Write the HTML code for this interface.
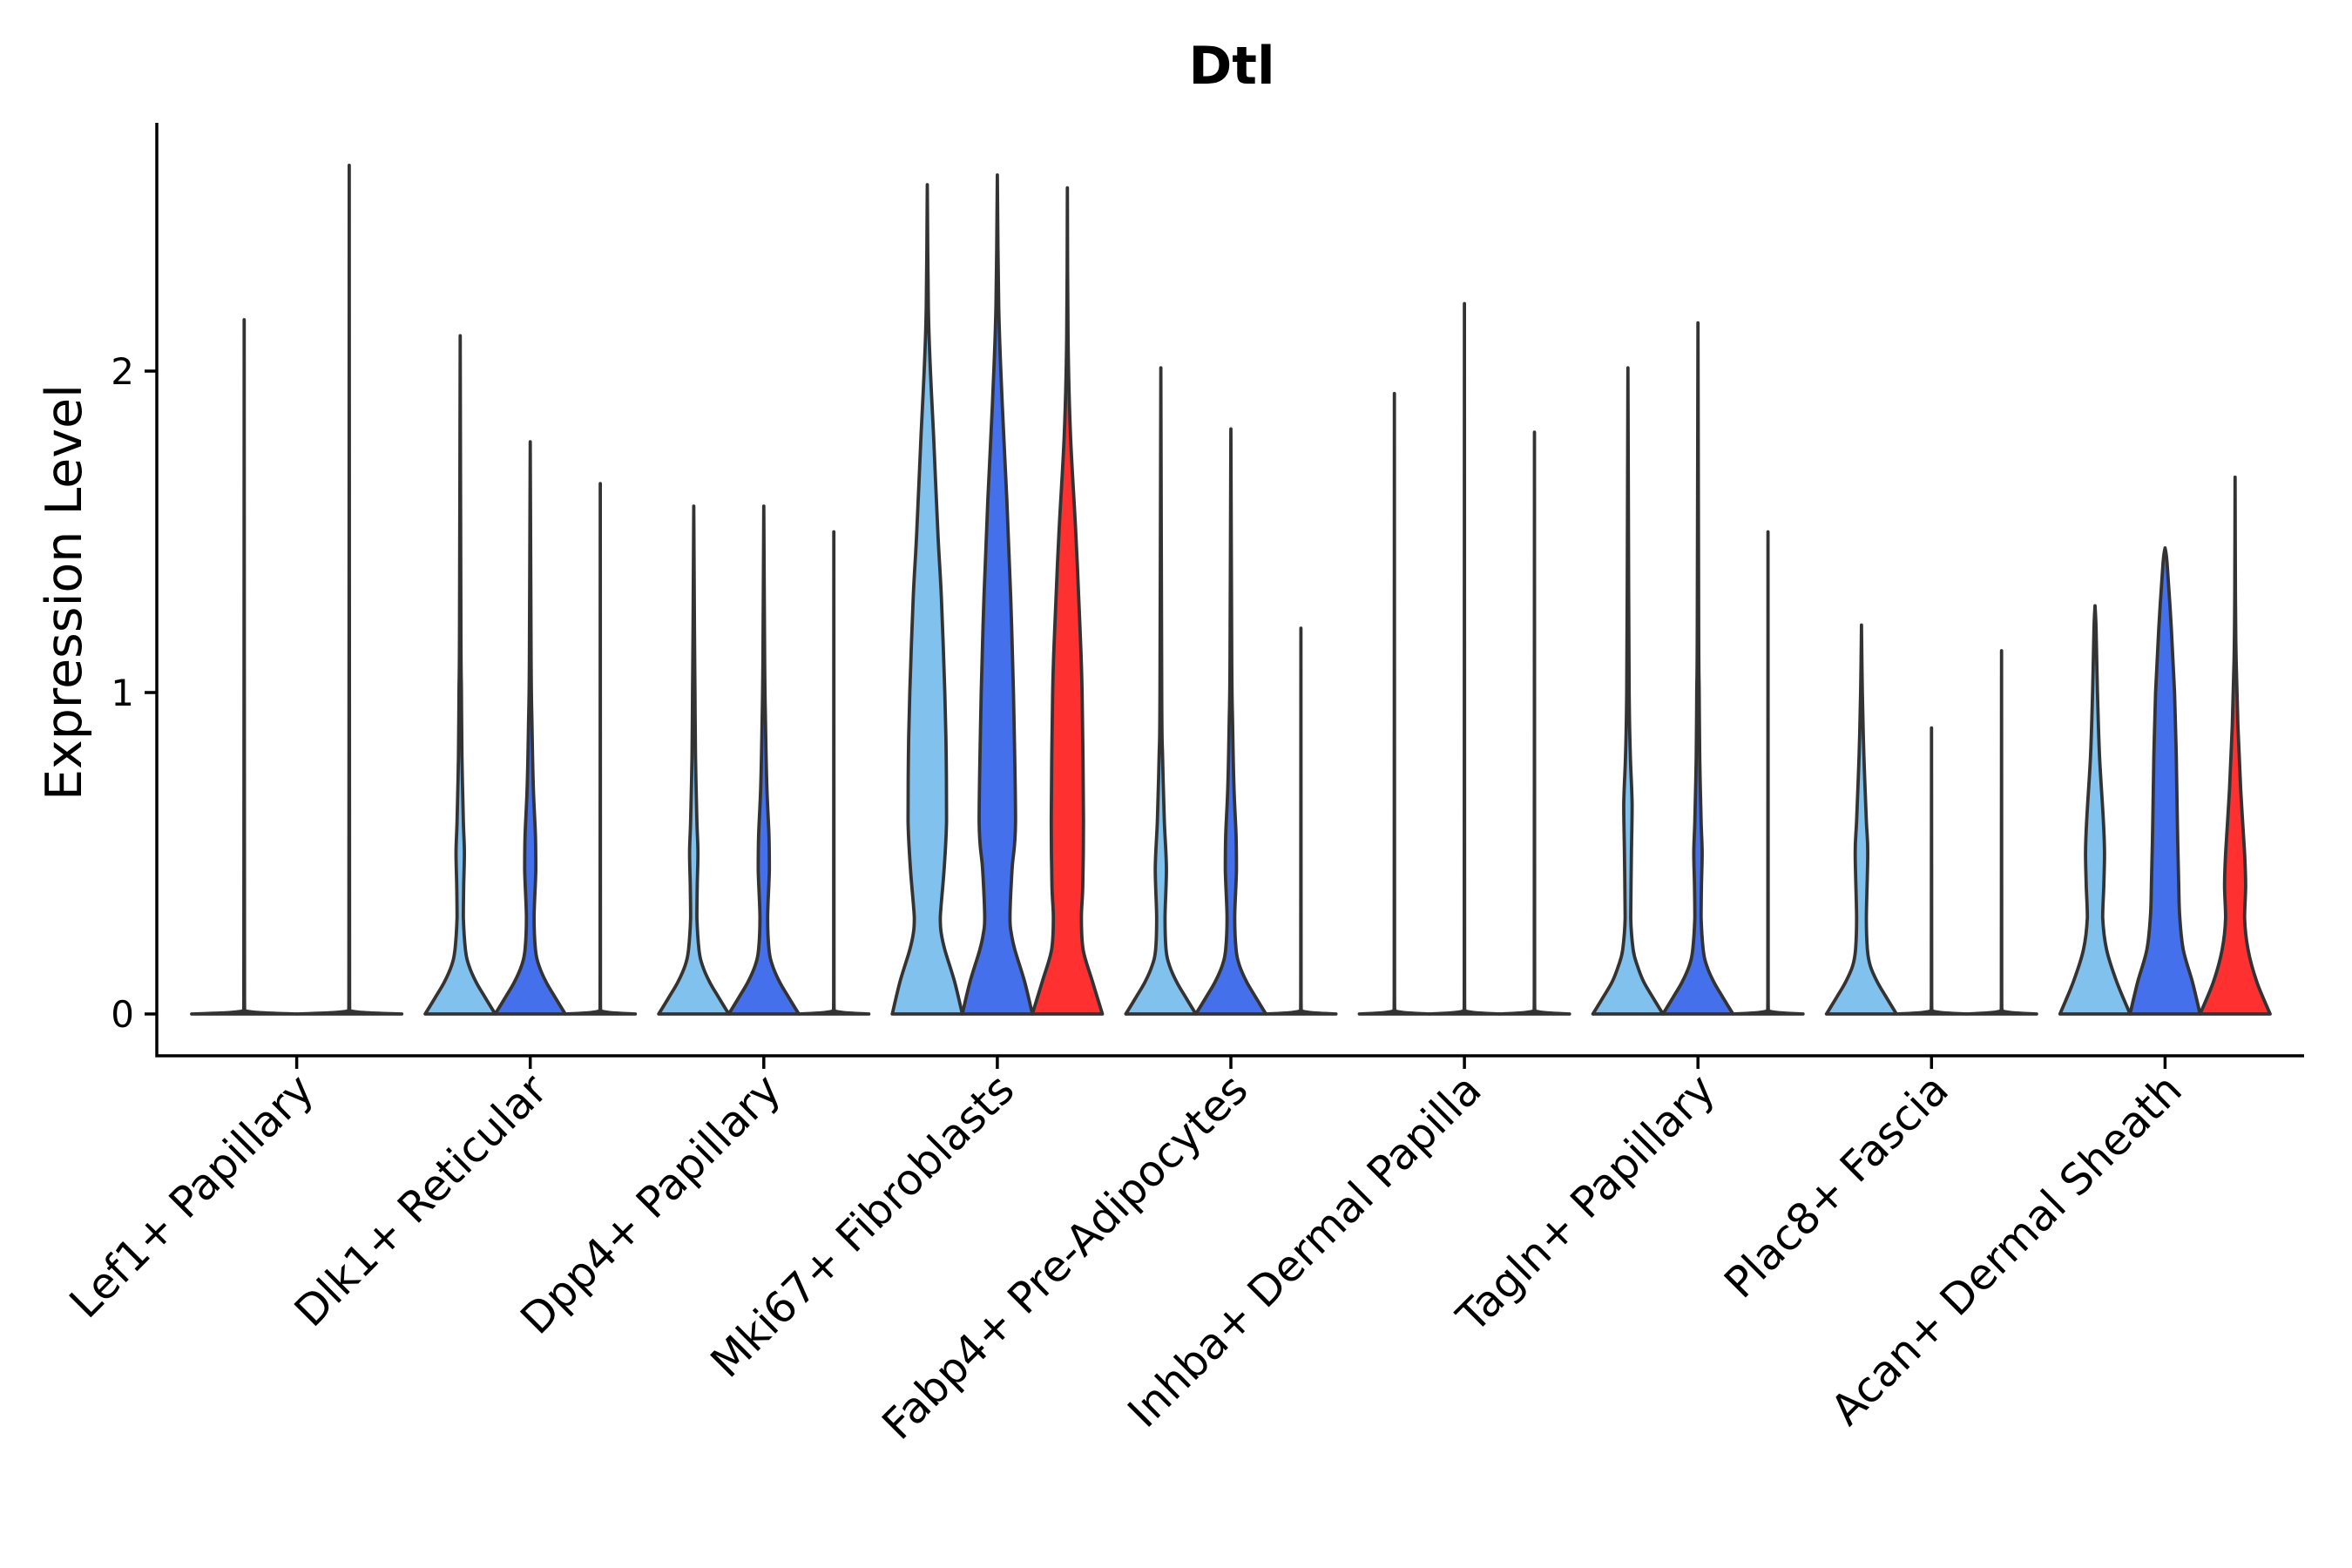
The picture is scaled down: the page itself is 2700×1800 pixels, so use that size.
<!DOCTYPE html>
<html><head><meta charset="utf-8"><style>
html,body{margin:0;padding:0;background:#fff;}
svg{display:block;font-family:"DejaVu Sans","Liberation Sans",sans-serif;}
</style></head><body>
<svg id="chart" width="2700" height="1800" viewBox="0 0 2700 1800" xmlns="http://www.w3.org/2000/svg">
<rect width="2700" height="1800" fill="#fff"/>
<text x="1414" y="96" font-size="60" font-weight="bold" text-anchor="middle">Dtl</text>
<text transform="translate(93,680) rotate(-90)" font-size="57" text-anchor="middle">Expression Level</text>
<g id="plot"></g>
</svg>
<script>
const categories = ["Lef1+ Papillary","Dlk1+ Reticular","Dpp4+ Papillary","Mki67+ Fibroblasts","Fabp4+ Pre-Adipocytes","Inhba+ Dermal Papilla","Tagln+ Papillary","Plac8+ Fascia","Acan+ Dermal Sheath"];
const groupSlots = [2,3,3,3,3,3,3,3,3];
const violinGroup = [0,0, 1,1,1, 2,2,2, 3,3,3, 4,4,4, 5,5,5, 6,6,6, 7,7,7, 8,8,8];
const violinSlot  = [0,1, 0,1,2, 0,1,2, 0,1,2, 0,1,2, 0,1,2, 0,1,2, 0,1,2, 0,1,2];
const violinColor = [0,1, 0,1,2, 0,1,2, 0,1,2, 0,1,2, 0,1,2, 0,1,2, 0,1,2, 0,1,2];
const violinMax = [2.16,2.64, 2.11,1.78,1.65, 1.58,1.58,1.50, 2.58,2.61,2.57, 2.01,1.82,1.20, 1.93,2.21,1.81, 2.01,2.15,1.50, 1.21,0.89,1.13, 1.27,1.45,1.67];
const flat = [[0,1],[0.01,0.012],[0.05,0.006]];
const bimodalA = [[0,1],[0.05,0.72],[0.1,0.45],[0.15,0.25],[0.2,0.15],[0.3,0.09],[0.4,0.1],[0.5,0.12],[0.6,0.09],[0.8,0.05],[1.0,0.035],[1.2,0.02]];
const bimodalB = [[0,1],[0.05,0.72],[0.1,0.45],[0.15,0.25],[0.2,0.15],[0.3,0.11],[0.45,0.16],[0.55,0.15],[0.7,0.09],[0.9,0.05],[1.1,0.025]];
const fabp4 = [[0,1],[0.05,0.72],[0.1,0.45],[0.15,0.25],[0.2,0.15],[0.3,0.12],[0.45,0.16],[0.6,0.1],[0.8,0.05],[1.0,0.025]];
const tagln = [[0,1],[0.05,0.72],[0.1,0.45],[0.15,0.27],[0.2,0.15],[0.3,0.08],[0.5,0.1],[0.65,0.12],[0.8,0.07],[1.0,0.035],[1.5,0.015]];
const plac8 = [[0,1],[0.05,0.72],[0.1,0.45],[0.15,0.25],[0.2,0.17],[0.3,0.14],[0.5,0.18],[0.6,0.14],[0.8,0.07],[1.0,0.025]];
const mkiLight = [[0,1],[0.1,0.78],[0.2,0.5],[0.25,0.4],[0.3,0.37],[0.45,0.48],[0.6,0.55],[0.8,0.54],[1.0,0.5],[1.3,0.4],[1.5,0.3],[1.8,0.18],[2.0,0.09],[2.2,0.03]];
const mkiBlue = [[0,1],[0.1,0.78],[0.2,0.5],[0.25,0.4],[0.3,0.36],[0.45,0.42],[0.6,0.52],[1.0,0.46],[1.3,0.38],[1.6,0.27],[1.9,0.14],[2.2,0.04]];
const mkiRed = [[0,1],[0.1,0.72],[0.2,0.45],[0.3,0.4],[0.4,0.44],[0.6,0.46],[1.0,0.42],[1.2,0.36],[1.5,0.24],[1.8,0.09],[2.1,0.02]];
const acanLight = [[0,1],[0.1,0.62],[0.2,0.33],[0.3,0.22],[0.4,0.25],[0.5,0.27],[0.6,0.24],[0.8,0.13],[1.0,0.07],[1.2,0.03]];
const acanBlue = [[0,1],[0.1,0.78],[0.2,0.52],[0.3,0.42],[0.4,0.39],[0.6,0.35],[0.8,0.32],[1.0,0.27],[1.2,0.18],[1.4,0.06]];
const acanRed = [[0,1],[0.1,0.62],[0.2,0.37],[0.3,0.27],[0.4,0.3],[0.5,0.27],[0.7,0.16],[0.9,0.08],[1.1,0.03],[1.3,0.01]];
const violinProfile = [flat,flat, bimodalA,bimodalB,flat, bimodalA,bimodalB,flat, mkiLight,mkiBlue,mkiRed, fabp4,bimodalB,flat, flat,flat,flat, tagln,bimodalA,flat, plac8,flat,flat, acanLight,acanBlue,acanRed];
const yTicks = [0,1,2];
const palette = ["#80C1EE","#4570EC","#FF3030"];

const NS="http://www.w3.org/2000/svg";
const plot=document.getElementById('plot');
const X0=180, X1=2645, YT=141, YB=1212;
function yScale(v){return 1164 - v*369;}
function groupX(i){return 340.6 + i*268.1;}
function mk(tag,attrs){const e=document.createElementNS(NS,tag);for(const k in attrs)e.setAttribute(k,attrs[k]);plot.appendChild(e);return e;}
function clamp(v,a,b){const lo=Math.min(a,b),hi=Math.max(a,b);return Math.max(lo,Math.min(hi,v));}
function smooth(p){
  let d='M'+p[0][0].toFixed(1)+','+p[0][1].toFixed(1);
  for(let i=0;i<p.length-1;i++){
    const p0=p[Math.max(i-1,0)],p1=p[i],p2=p[i+1],p3=p[Math.min(i+2,p.length-1)];
    const c1=[clamp(p1[0]+(p2[0]-p0[0])/6,p1[0],p2[0]),clamp(p1[1]+(p2[1]-p0[1])/6,p1[1],p2[1])];
    const c2=[clamp(p2[0]-(p3[0]-p1[0])/6,p1[0],p2[0]),clamp(p2[1]-(p3[1]-p1[1])/6,p1[1],p2[1])];
    d+=' C'+c1.map(v=>v.toFixed(1)).join(',')+' '+c2.map(v=>v.toFixed(1)).join(',')+' '+p2[0].toFixed(1)+','+p2[1].toFixed(1);
  }
  return d;
}

violinMax.forEach((mx,k)=>{
  const g=violinGroup[k], n=groupSlots[g];
  const step = n===3?80.4:120.6;
  const hw = n===3?40.2:60.3;
  const cx = groupX(g) + (violinSlot[k]-(n-1)/2)*step;
  const prof = violinProfile[k].filter(p=>p[0]<mx);
  const pts = prof.concat([[mx,0]]);
  const right=pts.map(p=>[cx+p[1]*hw,yScale(p[0])]);
  const left=pts.slice().reverse().map(p=>[cx-p[1]*hw,yScale(p[0])]);
  const d=smooth(right)+' L'+smooth(left).slice(1)+' Z';
  const el=mk('path',{d:d,fill:palette[violinColor[k]],stroke:'#333','stroke-width':3.8,'stroke-linejoin':'round'});
  
  
});

const ax=mk('path',{d:`M${X0},${YT} L${X0},${YB} L${X1},${YB}`,fill:'none',stroke:'#000','stroke-width':3.5});



yTicks.forEach(t=>{
  const y=yScale(t);
  const tk=mk('line',{x1:X0-14,x2:X0,y1:y,y2:y,stroke:'#000','stroke-width':3.5});
  
  
  const tx=mk('text',{x:X0-26,y:y+15,'font-size':42,'text-anchor':'end'});
  tx.textContent=t;
  
  
});

categories.forEach((c,i)=>{
  const x=groupX(i);
  const tk=mk('line',{x1:x,x2:x,y1:YB,y2:YB+15,stroke:'#000','stroke-width':3.5});
  
  
  const tx=mk('text',{transform:`translate(${x+22},${YB+42}) rotate(-45)`,'font-size':49,'text-anchor':'end'});
  tx.textContent=c;
  
  
});
</script>
</body></html>
